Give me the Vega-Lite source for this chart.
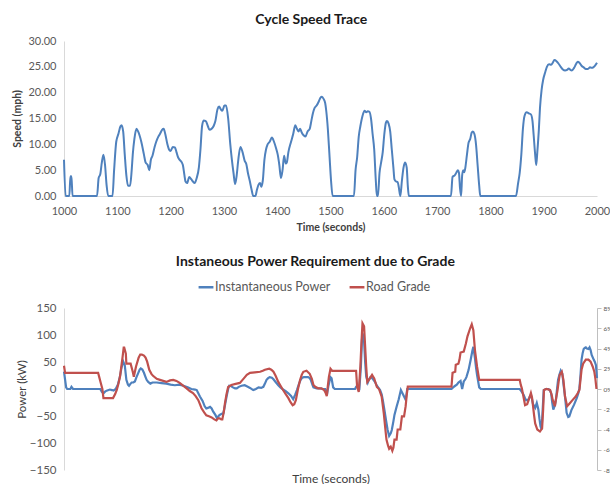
{
  "$schema": "https://vega.github.io/schema/vega-lite/v6.json",
  "padding": {"left": 12, "top": 13, "right": 0, "bottom": 0},
  "spacing": 22,
  "align": "none",
  "config": {
    "font": "Lato",
    "view": {"stroke": null},
    "axis": {"grid": false, "ticks": false, "labelColor": "#595959", "titleColor": "#404040", "domainColor": "#d9d9d9", "labelFont": "Lato", "titleFont": "Lato"},
    "title": {"font": "Lato", "fontSize": 14, "fontWeight": "bold", "color": "#1a1a1a", "frame": "bounds", "anchor": "middle"},
    "legend": {"labelFont": "Lato"}
  },
  "datasets": {
    "speed": [
      {"t":1000,"mph":7},{"t":1003,"mph":0},{"t":1010,"mph":0},{"t":1012,"mph":3.8},{"t":1014,"mph":3.8},{"t":1016,"mph":0},{"t":1062,"mph":0},{"t":1065,"mph":3.5},{"t":1068,"mph":4.2},{"t":1071,"mph":6.5},{"t":1074,"mph":8},{"t":1077,"mph":6},{"t":1080,"mph":2},{"t":1083,"mph":0},{"t":1091,"mph":0},{"t":1094,"mph":5},{"t":1098,"mph":10.5},{"t":1102,"mph":12},{"t":1106,"mph":13.5},{"t":1108,"mph":13.7},{"t":1111,"mph":12.5},{"t":1114,"mph":8},{"t":1117,"mph":4},{"t":1120,"mph":2},{"t":1124,"mph":2},{"t":1127,"mph":5},{"t":1129,"mph":8},{"t":1132,"mph":11},{"t":1136,"mph":13},{"t":1139,"mph":12.5},{"t":1145,"mph":10.5},{"t":1150,"mph":8},{"t":1153,"mph":6.5},{"t":1157,"mph":6},{"t":1160,"mph":5},{"t":1163,"mph":7},{"t":1166,"mph":7.8},{"t":1170,"mph":9.5},{"t":1173,"mph":10.5},{"t":1177,"mph":11.5},{"t":1180,"mph":12},{"t":1184,"mph":12.8},{"t":1187,"mph":13},{"t":1190,"mph":12},{"t":1194,"mph":10},{"t":1197,"mph":9},{"t":1200,"mph":8.7},{"t":1204,"mph":9.5},{"t":1208,"mph":9.4},{"t":1211,"mph":8.5},{"t":1214,"mph":7.5},{"t":1217,"mph":7},{"t":1221,"mph":6.5},{"t":1223,"mph":6},{"t":1226,"mph":4},{"t":1228,"mph":2.8},{"t":1231,"mph":2.5},{"t":1235,"mph":3.7},{"t":1239,"mph":3.2},{"t":1242,"mph":2.8},{"t":1245,"mph":2.5},{"t":1249,"mph":3.5},{"t":1253,"mph":5.5},{"t":1256,"mph":9},{"t":1259,"mph":13.5},{"t":1262,"mph":14.6},{"t":1266,"mph":14.5},{"t":1270,"mph":13.5},{"t":1273,"mph":12.8},{"t":1277,"mph":13},{"t":1281,"mph":13.6},{"t":1284,"mph":14.5},{"t":1288,"mph":16.8},{"t":1291,"mph":17.3},{"t":1294,"mph":16.8},{"t":1297,"mph":16.5},{"t":1301,"mph":17.5},{"t":1304,"mph":17.5},{"t":1308,"mph":15},{"t":1312,"mph":10},{"t":1315,"mph":7},{"t":1318,"mph":4.5},{"t":1321,"mph":2.3},{"t":1324,"mph":4},{"t":1327,"mph":7},{"t":1331,"mph":9.5},{"t":1335,"mph":8.5},{"t":1339,"mph":6.8},{"t":1342,"mph":6.2},{"t":1345,"mph":4.5},{"t":1349,"mph":2.7},{"t":1352,"mph":1.2},{"t":1355,"mph":0},{"t":1359,"mph":0},{"t":1362,"mph":1.2},{"t":1365,"mph":2.2},{"t":1368,"mph":2.5},{"t":1370,"mph":1.8},{"t":1373,"mph":3},{"t":1376,"mph":7},{"t":1379,"mph":9},{"t":1382,"mph":10},{"t":1386,"mph":10.5},{"t":1390,"mph":11.3},{"t":1394,"mph":10.5},{"t":1398,"mph":9.2},{"t":1401,"mph":8},{"t":1404,"mph":6},{"t":1407,"mph":3.5},{"t":1410,"mph":5},{"t":1413,"mph":7.8},{"t":1416,"mph":6.3},{"t":1418,"mph":6.5},{"t":1421,"mph":8.5},{"t":1426,"mph":10.5},{"t":1430,"mph":12},{"t":1434,"mph":13.7},{"t":1437,"mph":13},{"t":1440,"mph":12.5},{"t":1443,"mph":13},{"t":1446,"mph":12.3},{"t":1450,"mph":11.7},{"t":1453,"mph":11.5},{"t":1457,"mph":12.5},{"t":1461,"mph":13},{"t":1464,"mph":14.5},{"t":1467,"mph":16},{"t":1470,"mph":17},{"t":1474,"mph":17.5},{"t":1478,"mph":18.3},{"t":1481,"mph":19},{"t":1484,"mph":19.2},{"t":1487,"mph":18.8},{"t":1490,"mph":18},{"t":1492,"mph":16.5},{"t":1495,"mph":13},{"t":1498,"mph":8},{"t":1501,"mph":3},{"t":1504,"mph":0},{"t":1544,"mph":0},{"t":1547,"mph":5},{"t":1550,"mph":7.5},{"t":1553,"mph":11.5},{"t":1556,"mph":13.5},{"t":1560,"mph":15.5},{"t":1564,"mph":16.5},{"t":1567,"mph":16.2},{"t":1570,"mph":16.4},{"t":1573,"mph":16.3},{"t":1576,"mph":15},{"t":1579,"mph":12},{"t":1582,"mph":9},{"t":1585,"mph":3},{"t":1587,"mph":0},{"t":1589,"mph":0},{"t":1592,"mph":4.5},{"t":1595,"mph":6.5},{"t":1598,"mph":8.5},{"t":1601,"mph":12},{"t":1604,"mph":14.2},{"t":1606,"mph":14.5},{"t":1609,"mph":14},{"t":1612,"mph":12.5},{"t":1615,"mph":9},{"t":1618,"mph":5.5},{"t":1620,"mph":3.2},{"t":1623,"mph":2.8},{"t":1626,"mph":2.7},{"t":1628,"mph":1.8},{"t":1631,"mph":0},{"t":1634,"mph":3},{"t":1637,"mph":5.5},{"t":1640,"mph":6.5},{"t":1643,"mph":5.5},{"t":1645,"mph":2},{"t":1647,"mph":0},{"t":1726,"mph":0},{"t":1729,"mph":3.7},{"t":1733,"mph":4},{"t":1736,"mph":4.5},{"t":1739,"mph":5},{"t":1741,"mph":4.5},{"t":1743,"mph":1.5},{"t":1745,"mph":0},{"t":1747,"mph":4},{"t":1749,"mph":5},{"t":1751,"mph":4.6},{"t":1753,"mph":5.5},{"t":1756,"mph":8},{"t":1759,"mph":10.3},{"t":1762,"mph":11},{"t":1765,"mph":12.3},{"t":1767,"mph":12.5},{"t":1770,"mph":12},{"t":1773,"mph":10},{"t":1776,"mph":6},{"t":1779,"mph":2},{"t":1781,"mph":0},{"t":1848,"mph":0},{"t":1852,"mph":2.5},{"t":1855,"mph":4.5},{"t":1858,"mph":8},{"t":1861,"mph":13},{"t":1864,"mph":15.5},{"t":1868,"mph":16.2},{"t":1872,"mph":16},{"t":1876,"mph":15.8},{"t":1879,"mph":14.5},{"t":1881,"mph":12},{"t":1884,"mph":8},{"t":1886,"mph":6},{"t":1888,"mph":8.5},{"t":1891,"mph":13},{"t":1893,"mph":17},{"t":1896,"mph":20.5},{"t":1899,"mph":22.5},{"t":1903,"mph":24},{"t":1906,"mph":25},{"t":1910,"mph":25.5},{"t":1914,"mph":25.4},{"t":1917,"mph":25.8},{"t":1920,"mph":26.3},{"t":1924,"mph":26.1},{"t":1928,"mph":25.6},{"t":1932,"mph":25},{"t":1936,"mph":24.5},{"t":1940,"mph":24.3},{"t":1944,"mph":24.4},{"t":1947,"mph":24.7},{"t":1950,"mph":24.4},{"t":1953,"mph":24.3},{"t":1957,"mph":24.8},{"t":1961,"mph":25.6},{"t":1964,"mph":26},{"t":1967,"mph":25.8},{"t":1971,"mph":25.2},{"t":1975,"mph":24.9},{"t":1979,"mph":24.6},{"t":1983,"mph":24.6},{"t":1987,"mph":24.9},{"t":1990,"mph":24.8},{"t":1993,"mph":24.9},{"t":1996,"mph":25.2},{"t":2000,"mph":25.8}
    ],
    "power": [
      {"t":1000,"kw":32},{"t":1004,"kw":3},{"t":1006,"kw":0},{"t":1012,"kw":0},{"t":1014,"kw":4},{"t":1017,"kw":0},{"t":1068,"kw":0},{"t":1071,"kw":-5},{"t":1074,"kw":-8},{"t":1077,"kw":-5},{"t":1080,"kw":-3},{"t":1086,"kw":-1},{"t":1090,"kw":-2},{"t":1093,"kw":-3},{"t":1097,"kw":0},{"t":1101,"kw":8},{"t":1105,"kw":23},{"t":1108,"kw":40},{"t":1111,"kw":51},{"t":1114,"kw":44},{"t":1117,"kw":17},{"t":1120,"kw":8},{"t":1122,"kw":6},{"t":1125,"kw":10},{"t":1127,"kw":12},{"t":1130,"kw":12},{"t":1133,"kw":14},{"t":1136,"kw":22},{"t":1139,"kw":29},{"t":1142,"kw":36},{"t":1144,"kw":38},{"t":1147,"kw":36},{"t":1150,"kw":30},{"t":1153,"kw":22},{"t":1155,"kw":17},{"t":1158,"kw":13},{"t":1162,"kw":10},{"t":1166,"kw":12},{"t":1174,"kw":12},{"t":1183,"kw":11},{"t":1192,"kw":10},{"t":1200,"kw":8},{"t":1208,"kw":7},{"t":1216,"kw":8},{"t":1224,"kw":6},{"t":1232,"kw":3},{"t":1239,"kw":0},{"t":1246,"kw":-1},{"t":1249,"kw":-2},{"t":1252,"kw":-8},{"t":1255,"kw":-14},{"t":1260,"kw":-22},{"t":1264,"kw":-32},{"t":1267,"kw":-36},{"t":1270,"kw":-35},{"t":1274,"kw":-33},{"t":1277,"kw":-36},{"t":1280,"kw":-42},{"t":1284,"kw":-48},{"t":1287,"kw":-54},{"t":1290,"kw":-50},{"t":1292,"kw":-48},{"t":1296,"kw":-46},{"t":1299,"kw":-45},{"t":1302,"kw":-30},{"t":1305,"kw":-14},{"t":1308,"kw":0},{"t":1310,"kw":6},{"t":1314,"kw":5},{"t":1317,"kw":3},{"t":1321,"kw":1},{"t":1324,"kw":1},{"t":1328,"kw":4},{"t":1333,"kw":6},{"t":1339,"kw":7},{"t":1343,"kw":5},{"t":1349,"kw":2},{"t":1355,"kw":-2},{"t":1360,"kw":0},{"t":1365,"kw":3},{"t":1370,"kw":2},{"t":1374,"kw":4},{"t":1377,"kw":10},{"t":1380,"kw":17},{"t":1383,"kw":20},{"t":1386,"kw":22},{"t":1390,"kw":21},{"t":1393,"kw":18},{"t":1397,"kw":13},{"t":1402,"kw":7},{"t":1406,"kw":3},{"t":1411,"kw":-1},{"t":1416,"kw":-4},{"t":1421,"kw":-8},{"t":1426,"kw":-13},{"t":1430,"kw":-19},{"t":1434,"kw":-10},{"t":1437,"kw":-2},{"t":1441,"kw":10},{"t":1444,"kw":17},{"t":1447,"kw":21},{"t":1450,"kw":22},{"t":1454,"kw":22},{"t":1458,"kw":22},{"t":1461,"kw":20},{"t":1463,"kw":17},{"t":1466,"kw":8},{"t":1468,"kw":3},{"t":1474,"kw":1},{"t":1480,"kw":1},{"t":1486,"kw":0},{"t":1490,"kw":0},{"t":1492,"kw":-4},{"t":1494,"kw":-7},{"t":1496,"kw":5},{"t":1498,"kw":14},{"t":1500,"kw":22},{"t":1502,"kw":20},{"t":1505,"kw":3},{"t":1508,"kw":0},{"t":1546,"kw":0},{"t":1548,"kw":4},{"t":1550,"kw":6},{"t":1553,"kw":2},{"t":1554,"kw":-2},{"t":1557,"kw":41},{"t":1559,"kw":90},{"t":1560,"kw":103},{"t":1562,"kw":95},{"t":1563,"kw":88},{"t":1565,"kw":50},{"t":1567,"kw":23},{"t":1570,"kw":12},{"t":1572,"kw":17},{"t":1575,"kw":22},{"t":1578,"kw":20},{"t":1580,"kw":18},{"t":1584,"kw":12},{"t":1587,"kw":6},{"t":1593,"kw":-2},{"t":1596,"kw":-10},{"t":1598,"kw":-20},{"t":1601,"kw":-38},{"t":1604,"kw":-57},{"t":1607,"kw":-75},{"t":1610,"kw":-87},{"t":1613,"kw":-82},{"t":1615,"kw":-76},{"t":1618,"kw":-60},{"t":1620,"kw":-48},{"t":1624,"kw":-33},{"t":1628,"kw":-19},{"t":1632,"kw":-2},{"t":1635,"kw":-8},{"t":1638,"kw":-14},{"t":1641,"kw":-20},{"t":1644,"kw":0},{"t":1727,"kw":0},{"t":1730,"kw":3},{"t":1734,"kw":6},{"t":1737,"kw":8},{"t":1740,"kw":12},{"t":1744,"kw":15},{"t":1747,"kw":0},{"t":1750,"kw":14},{"t":1753,"kw":18},{"t":1755,"kw":22},{"t":1759,"kw":35},{"t":1763,"kw":54},{"t":1766,"kw":70},{"t":1768,"kw":78},{"t":1771,"kw":57},{"t":1773,"kw":40},{"t":1775,"kw":26},{"t":1779,"kw":3},{"t":1782,"kw":0},{"t":1855,"kw":0},{"t":1858,"kw":-4},{"t":1862,"kw":-10},{"t":1865,"kw":-17},{"t":1867,"kw":-21},{"t":1871,"kw":-20},{"t":1874,"kw":-14},{"t":1876,"kw":-11},{"t":1878,"kw":-18},{"t":1880,"kw":-28},{"t":1884,"kw":-35},{"t":1887,"kw":-26},{"t":1890,"kw":-38},{"t":1892,"kw":-55},{"t":1894,"kw":-69},{"t":1896,"kw":-75},{"t":1898,"kw":-40},{"t":1900,"kw":-2},{"t":1904,"kw":0},{"t":1909,"kw":0},{"t":1912,"kw":-3},{"t":1914,"kw":-8},{"t":1916,"kw":-25},{"t":1918,"kw":-38},{"t":1921,"kw":-30},{"t":1923,"kw":-20},{"t":1925,"kw":0},{"t":1927,"kw":17},{"t":1930,"kw":28},{"t":1932,"kw":34},{"t":1935,"kw":28},{"t":1937,"kw":10},{"t":1940,"kw":-14},{"t":1943,"kw":-44},{"t":1946,"kw":-52},{"t":1948,"kw":-51},{"t":1950,"kw":-45},{"t":1952,"kw":-39},{"t":1957,"kw":-29},{"t":1962,"kw":-17},{"t":1965,"kw":-8},{"t":1967,"kw":1},{"t":1969,"kw":25},{"t":1971,"kw":54},{"t":1973,"kw":66},{"t":1975,"kw":74},{"t":1977,"kw":76},{"t":1979,"kw":77},{"t":1981,"kw":75},{"t":1984,"kw":74},{"t":1986,"kw":77},{"t":1988,"kw":72},{"t":1990,"kw":63},{"t":1994,"kw":54},{"t":1996,"kw":50},{"t":1998,"kw":44},{"t":2000,"kw":20}
    ],
    "grade": [
      {"t":1000,"pct":2.3},{"t":1002,"pct":1.6},{"t":1064,"pct":1.6},{"t":1066,"pct":1.2},{"t":1069,"pct":0.6},{"t":1072,"pct":0},{"t":1074,"pct":-0.9},{"t":1092,"pct":-0.9},{"t":1096,"pct":-0.5},{"t":1099,"pct":-0.1},{"t":1102,"pct":0.5},{"t":1105,"pct":1.2},{"t":1108,"pct":2.4},{"t":1110,"pct":3.2},{"t":1112,"pct":4.1},{"t":1113,"pct":4.1},{"t":1116,"pct":3.5},{"t":1117,"pct":2.5},{"t":1125,"pct":2.5},{"t":1129,"pct":1.7},{"t":1131,"pct":1.2},{"t":1135,"pct":2.2},{"t":1140,"pct":3.1},{"t":1143,"pct":3.4},{"t":1146,"pct":3.4},{"t":1150,"pct":3.3},{"t":1153,"pct":3.1},{"t":1156,"pct":2.7},{"t":1160,"pct":1.9},{"t":1164,"pct":1.5},{"t":1167,"pct":1.3},{"t":1174,"pct":1.0},{"t":1180,"pct":0.9},{"t":1192,"pct":0.7},{"t":1199,"pct":0.85},{"t":1205,"pct":0.9},{"t":1211,"pct":0.8},{"t":1217,"pct":0.6},{"t":1224,"pct":0.3},{"t":1230,"pct":0.07},{"t":1236,"pct":-0.2},{"t":1242,"pct":-0.4},{"t":1247,"pct":-0.7},{"t":1252,"pct":-1.1},{"t":1255,"pct":-1.5},{"t":1258,"pct":-1.9},{"t":1263,"pct":-2.3},{"t":1267,"pct":-2.6},{"t":1272,"pct":-2.7},{"t":1277,"pct":-2.8},{"t":1282,"pct":-3.0},{"t":1286,"pct":-3.1},{"t":1289,"pct":-2.9},{"t":1292,"pct":-2.9},{"t":1295,"pct":-3.0},{"t":1297,"pct":-3.0},{"t":1300,"pct":-2.2},{"t":1302,"pct":-1.4},{"t":1305,"pct":-0.5},{"t":1308,"pct":0.2},{"t":1314,"pct":0.4},{"t":1322,"pct":0.5},{"t":1330,"pct":0.6},{"t":1335,"pct":0.9},{"t":1339,"pct":1.15},{"t":1343,"pct":1.4},{"t":1349,"pct":1.6},{"t":1358,"pct":1.65},{"t":1368,"pct":1.7},{"t":1373,"pct":1.8},{"t":1377,"pct":1.9},{"t":1385,"pct":2.0},{"t":1389,"pct":1.9},{"t":1393,"pct":1.7},{"t":1397,"pct":1.3},{"t":1402,"pct":0.7},{"t":1406,"pct":0.35},{"t":1411,"pct":-0.1},{"t":1416,"pct":-0.5},{"t":1421,"pct":-0.9},{"t":1425,"pct":-1.3},{"t":1429,"pct":-1.6},{"t":1432,"pct":-1.5},{"t":1435,"pct":-1.1},{"t":1439,"pct":0},{"t":1443,"pct":0.9},{"t":1446,"pct":1.4},{"t":1449,"pct":1.7},{"t":1455,"pct":1.8},{"t":1461,"pct":1.5},{"t":1465,"pct":1.0},{"t":1468,"pct":0.4},{"t":1472,"pct":0.2},{"t":1477,"pct":0.07},{"t":1483,"pct":0.07},{"t":1488,"pct":-0.1},{"t":1491,"pct":-0.4},{"t":1493,"pct":-0.7},{"t":1495,"pct":0.3},{"t":1497,"pct":1.2},{"t":1500,"pct":2.0},{"t":1503,"pct":1.8},{"t":1548,"pct":1.8},{"t":1550,"pct":0.2},{"t":1553,"pct":-0.3},{"t":1556,"pct":2.2},{"t":1558,"pct":4.5},{"t":1560,"pct":6.5},{"t":1563,"pct":6.2},{"t":1565,"pct":4.2},{"t":1567,"pct":2.2},{"t":1569,"pct":0.7},{"t":1574,"pct":1.05},{"t":1578,"pct":1.4},{"t":1582,"pct":1.05},{"t":1587,"pct":0.2},{"t":1591,"pct":0},{"t":1596,"pct":-0.75},{"t":1600,"pct":-2.4},{"t":1603,"pct":-4.0},{"t":1605,"pct":-5.0},{"t":1608,"pct":-5.6},{"t":1610,"pct":-5.9},{"t":1613,"pct":-5.7},{"t":1616,"pct":-6.1},{"t":1618,"pct":-5.8},{"t":1620,"pct":-5.0},{"t":1624,"pct":-5.0},{"t":1626,"pct":-4.0},{"t":1631,"pct":-4.0},{"t":1634,"pct":-2.7},{"t":1638,"pct":-2.7},{"t":1641,"pct":-1.7},{"t":1643,"pct":-0.6},{"t":1645,"pct":0.23},{"t":1727,"pct":0.23},{"t":1729,"pct":1.6},{"t":1734,"pct":1.7},{"t":1735,"pct":2.4},{"t":1740,"pct":2.5},{"t":1742,"pct":2.9},{"t":1744,"pct":3.6},{"t":1750,"pct":3.7},{"t":1754,"pct":4.5},{"t":1757,"pct":5.2},{"t":1762,"pct":6.0},{"t":1765,"pct":6.4},{"t":1768,"pct":5.8},{"t":1771,"pct":3.85},{"t":1775,"pct":2.2},{"t":1779,"pct":0.9},{"t":1855,"pct":0.9},{"t":1857,"pct":0.4},{"t":1859,"pct":0.07},{"t":1862,"pct":-0.75},{"t":1865,"pct":-1.6},{"t":1869,"pct":-1.5},{"t":1873,"pct":-0.9},{"t":1876,"pct":-0.4},{"t":1878,"pct":-0.8},{"t":1880,"pct":-1.7},{"t":1882,"pct":-2.6},{"t":1884,"pct":-3.4},{"t":1888,"pct":-4.0},{"t":1893,"pct":-4.2},{"t":1897,"pct":-3.9},{"t":1899,"pct":-2.0},{"t":1900.5,"pct":-0.1},{"t":1905,"pct":0},{"t":1912,"pct":-0.1},{"t":1915,"pct":-0.6},{"t":1917,"pct":-1.1},{"t":1921,"pct":-1.7},{"t":1923,"pct":-1.0},{"t":1926,"pct":-0.1},{"t":1928,"pct":0.7},{"t":1930,"pct":1.4},{"t":1934,"pct":1.7},{"t":1937,"pct":0.9},{"t":1940,"pct":-0.75},{"t":1944,"pct":-1.7},{"t":1949,"pct":-1.4},{"t":1954,"pct":-1.1},{"t":1960,"pct":-0.75},{"t":1964,"pct":-0.4},{"t":1967,"pct":-0.1},{"t":1971,"pct":1.9},{"t":1974,"pct":2.5},{"t":1979,"pct":2.9},{"t":1984,"pct":2.9},{"t":1988,"pct":2.7},{"t":1992,"pct":2.2},{"t":1995,"pct":1.7},{"t":1997,"pct":1.0},{"t":1999,"pct":0}
    ]
  },
  "resolve": {"scale": {"color": "independent", "x": "independent"}, "legend": {"color": "independent"}},
  "vconcat": [
    {
      "title": {"text": "Cycle Speed Trace", "offset": 8},
      "width": 533,
      "height": 155,
      "data": {"name": "speed"},
      "mark": {"type": "line", "color": "#4F81BD", "strokeWidth": 2, "interpolate": "monotone"},
      "encoding": {
        "x": {"field": "t", "type": "quantitative", "scale": {"domain": [1000, 2000], "nice": false},
          "axis": {"values": [1000,1100,1200,1300,1400,1500,1600,1700,1800,1900,2000], "format": "d", "title": "Time (seconds)", "labelFontSize": 11, "labelPadding": 9, "titleFontSize": 10.5, "titleFontWeight": "bold", "titlePadding": 6, "labelFlush": false}},
        "y": {"field": "mph", "type": "quantitative", "scale": {"domain": [0, 30], "nice": false},
          "axis": {"values": [0,5,10,15,20,25,30], "format": ".2f", "title": "Speed (mph)", "labelFontSize": 11, "labelPadding": 8, "titleFontSize": 10.5, "titleFontWeight": "bold", "titlePadding": 5}}
      }
    },
    {
      "title": {"text": "Instaneous Power Requirement due to Grade", "offset": 9},
      "width": 533,
      "height": 162,
      "layer": [
        {
          "data": {"name": "power"},
          "mark": {"type": "line", "strokeWidth": 2.2},
          "encoding": {
            "x": {"field": "t", "type": "quantitative", "scale": {"domain": [1000, 2000], "nice": false},
              "axis": {"labels": false, "domain": false, "ticks": false, "title": "Time (seconds)", "titleFontSize": 12, "titleFontWeight": "normal", "titlePadding": 3}},
            "y": {"field": "kw", "type": "quantitative", "scale": {"domain": [-150, 150], "nice": false},
              "axis": {"values": [-150,-100,-50,0,50,100,150], "title": "Power (kW)", "labelFontSize": 11.5, "labelPadding": 8, "titleFontSize": 11.5, "titleFontWeight": "normal", "titlePadding": 2}},
            "color": {"datum": "Instantaneous Power", "type": "nominal",
              "scale": {"domain": ["Instantaneous Power", "Road Grade"], "range": ["#4F81BD", "#C0504D"]},
              "legend": {"title": null, "orient": "none", "direction": "horizontal", "legendX": 133, "legendY": -30, "symbolType": "stroke", "symbolStrokeWidth": 2.5, "symbolSize": 220, "labelFontSize": 12.5, "labelColor": "#595959", "columnPadding": 13, "labelOffset": 0}}
          }
        },
        {
          "data": {"name": "grade"},
          "mark": {"type": "line", "strokeWidth": 2.2},
          "encoding": {
            "x": {"field": "t", "type": "quantitative"},
            "y": {"field": "pct", "type": "quantitative", "scale": {"domain": [-8, 8], "nice": false},
              "axis": {"orient": "right", "values": [-8,-6,-4,-2,0,2,4,6,8], "labelExpr": "datum.value + '%'", "title": null, "ticks": true, "tickSize": 4, "tickColor": "#bfbfbf", "domainColor": "#bfbfbf", "labelFontSize": 6.5, "labelPadding": 2}},
            "color": {"datum": "Road Grade", "type": "nominal"}
          }
        }
      ],
      "resolve": {"scale": {"y": "independent"}}
    }
  ]
}
